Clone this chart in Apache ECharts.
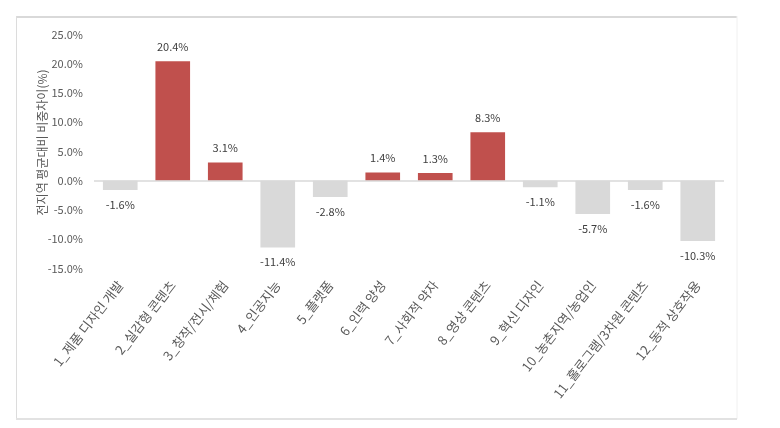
<!DOCTYPE html>
<html>
<head>
<meta charset="utf-8">
<script src="https://cdn.jsdelivr.net/npm/echarts@6/dist/echarts.min.js"></script>
<style>html,body{margin:0;padding:0;background:#fff;}#c{width:780px;height:428px;}</style>
</head>
<body>
<div id="c"></div>
<script>
var categories = ['1_제품 디자인 개발','2_실감형 콘텐츠','3_창작/전시/체험','4_인공지능','5_플랫폼','6_인력 양성','7_사회적 약자','8_영상 콘텐츠','9_혁신 디자인','10_농촌지역/농업인','11_홀로그램/3차원 콘텐츠','12_동적 상호작용'];
var values = [-1.6, 20.4, 3.1, -11.4, -2.8, 1.4, 1.3, 8.3, -1.1, -5.7, -1.6, -10.3];
var yTicks = {min: -15, max: 25, interval: 5};
var yName = '전지역 평균대비 비중차이(%)';

var FONT = '"Noto Sans CJK KR", sans-serif';
var chart = echarts.init(document.getElementById('c'));
var seriesData = values.map(function (v) {
  return v < 0 ? {value: v, label: {position: 'bottom'}} : {value: v};
});
chart.setOption({
  animation: false,
  grid: {left: 94, right: 56, top: 34.4, bottom: 159.5, containLabel: false},
  graphic: [
    {type: 'line', shape: {x1: 16, y1: 17, x2: 737, y2: 17}, style: {stroke: '#d9d9d9', lineWidth: 2}},
    {type: 'line', shape: {x1: 16.5, y1: 16, x2: 16.5, y2: 419}, style: {stroke: '#dcdcdc', lineWidth: 1}},
    {type: 'line', shape: {x1: 737, y1: 16, x2: 737, y2: 419}, style: {stroke: '#f0f0f0', lineWidth: 1}},
    {type: 'line', shape: {x1: 16, y1: 419, x2: 737, y2: 419}, style: {stroke: '#e2e2e2', lineWidth: 2}}
  ],
  xAxis: {
    type: 'category',
    data: categories,
    axisLine: {show: false, onZero: false},
    axisTick: {show: false},
    axisLabel: {interval: 0, rotate: 52, margin: 14, fontSize: 13, color: '#595959', fontFamily: FONT}
  },
  yAxis: {
    type: 'value',
    min: yTicks.min, max: yTicks.max, interval: yTicks.interval,
    name: yName,
    nameLocation: 'middle',
    nameGap: 46,
    nameRotate: 90,
    nameMoveOverlap: false,
    nameTextStyle: {fontSize: 12, color: '#595959', fontFamily: FONT, padding: [0, 0, 0, 18]},
    axisLine: {show: false},
    axisTick: {show: false},
    splitLine: {show: false},
    axisLabel: {fontSize: 11, color: '#595959', margin: 11, fontFamily: FONT,
      formatter: function (v) { return v.toFixed(1) + '%'; }}
  },
  series: [{
    type: 'bar',
    data: seriesData,
    barCategoryGap: '34%',
    itemStyle: {color: function (p) { return p.value >= 0 ? '#C0504D' : '#D9D9D9'; }},
    label: {
      show: true,
      fontSize: 11,
      color: '#404040',
      fontFamily: FONT,
      distance: 9,
      position: 'top',
      formatter: function (p) { return p.value.toFixed(1) + '%'; }
    },
    markLine: {
      silent: true,
      symbol: 'none',
      label: {show: false},
      lineStyle: {color: '#d9d9d9', type: 'solid', width: 1.5},
      data: [{yAxis: 0}]
    }
  }]
});
</script>
</body>
</html>
